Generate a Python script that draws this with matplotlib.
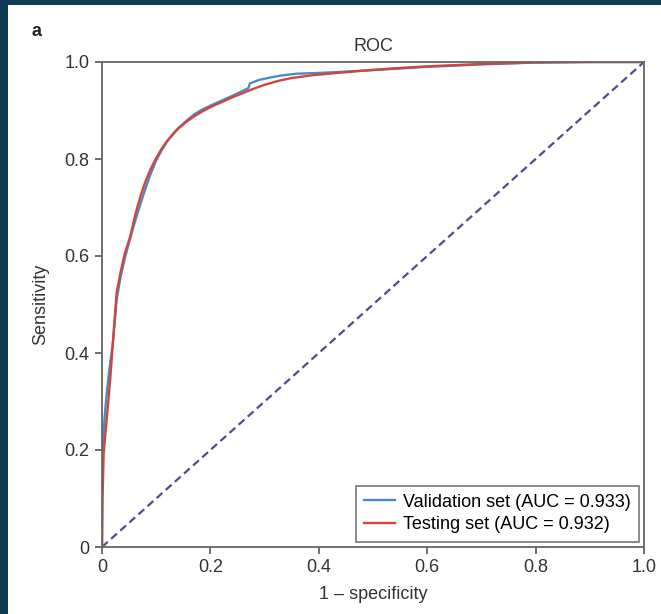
import matplotlib
matplotlib.use("Agg")
import matplotlib.pyplot as plt
from matplotlib.patches import Rectangle

# ROC points
val_fpr = [0, 0, 0.002, 0.005, 0.009, 0.014, 0.02, 0.027, 0.034, 0.042,
           0.05, 0.058, 0.066, 0.074, 0.082, 0.09, 0.1, 0.11, 0.12, 0.13,
           0.14, 0.155, 0.17, 0.185, 0.2, 0.22, 0.24, 0.255, 0.27, 0.273,
           0.29, 0.31, 0.33, 0.36, 0.39, 0.43, 0.48, 0.54, 0.6, 0.7,
           0.8, 0.9, 1.0]
val_tpr = [0, 0.17, 0.22, 0.27, 0.32, 0.37, 0.42, 0.51, 0.555, 0.595,
           0.628, 0.66, 0.69, 0.718, 0.745, 0.77, 0.797, 0.818, 0.836, 0.85,
           0.863, 0.878, 0.892, 0.902, 0.91, 0.92, 0.93, 0.938, 0.946, 0.956,
           0.963, 0.968, 0.972, 0.976, 0.977, 0.979, 0.982, 0.986, 0.99, 0.995,
           0.999, 1.0, 1.0]

test_fpr = [0, 0.001, 0.003, 0.006, 0.01, 0.015, 0.02, 0.027, 0.034, 0.042,
            0.052, 0.062, 0.072, 0.08, 0.09, 0.1, 0.11, 0.12, 0.13, 0.14,
            0.155, 0.17, 0.185, 0.2, 0.22, 0.24, 0.26, 0.28, 0.3, 0.325,
            0.35, 0.39, 0.43, 0.48, 0.54, 0.6, 0.7, 0.8, 0.9, 1.0]
test_tpr = [0, 0.1, 0.19, 0.23, 0.28, 0.344, 0.42, 0.524, 0.565, 0.605,
            0.64, 0.688, 0.727, 0.753, 0.78, 0.802, 0.821, 0.837, 0.85, 0.862,
            0.876, 0.888, 0.898, 0.907, 0.917, 0.927, 0.936, 0.945, 0.953, 0.961,
            0.967, 0.973, 0.977, 0.982, 0.987, 0.991, 0.996, 0.999, 1.0, 1.0]

labels = ["Validation set (AUC = 0.933)", "Testing set (AUC = 0.932)"]
ticks = [0, 0.2, 0.4, 0.6, 0.8, 1.0]
tick_labels = ["0", "0.2", "0.4", "0.6", "0.8", "1.0"]

plt.rcParams['font.family'] = ['Liberation Sans', 'DejaVu Sans']
txt = '#333333'
fs = 13

fig = plt.figure(figsize=(6.61, 6.14), dpi=100)
fig.patch.set_facecolor('#0f3d55')
# white page panel, kept behind the axes
fig.patches.append(Rectangle((8 / 661, 0), 1, 1 - 5 / 614, transform=fig.transFigure,
                             facecolor='white', edgecolor='none', zorder=-10))

ax = fig.add_axes([102 / 661, 67 / 614, 542 / 661, 485 / 614])

ax.plot([0, 1], [0, 1], linestyle=(0, (3.5, 2)), color='#4b4f8e', linewidth=1.6)
ax.plot(val_fpr, val_tpr, color='#4a8ac6', linewidth=1.7, label=labels[0])
ax.plot(test_fpr, test_tpr, color='#d0463c', linewidth=1.7, label=labels[1])

ax.set_xlim(0, 1)
ax.set_ylim(0, 1)
ax.set_xticks(ticks)
ax.set_xticklabels(tick_labels)
ax.set_yticks(ticks)
ax.set_yticklabels(tick_labels)
ax.tick_params(direction='out', length=5, width=1.2, labelsize=fs, colors='#555555',
               labelcolor=txt, top=False, right=False, pad=4)

for s in ax.spines.values():
    s.set_color('#666666')
    s.set_linewidth(1.3)

ax.set_title('ROC', fontsize=fs, pad=8, color=txt)
ax.set_xlabel('1 \u2013 specificity', fontsize=fs, color=txt, labelpad=7)
ax.set_ylabel('Sensitivity', fontsize=fs, color=txt, labelpad=11)

leg = ax.legend(loc='lower right', fontsize=fs, fancybox=False, frameon=True,
                edgecolor='#555555', handlelength=1.7, handletextpad=0.45,
                borderpad=0.45, labelspacing=0.32, borderaxespad=0.3)
leg.get_frame().set_linewidth(1.2)

fig.text(32 / 661, 1 - 31 / 614, 'a', fontsize=13, fontweight='bold', color='#222222',
         va='center')

plt.savefig('out.png', dpi=100, facecolor=fig.get_facecolor())
plt.close()
